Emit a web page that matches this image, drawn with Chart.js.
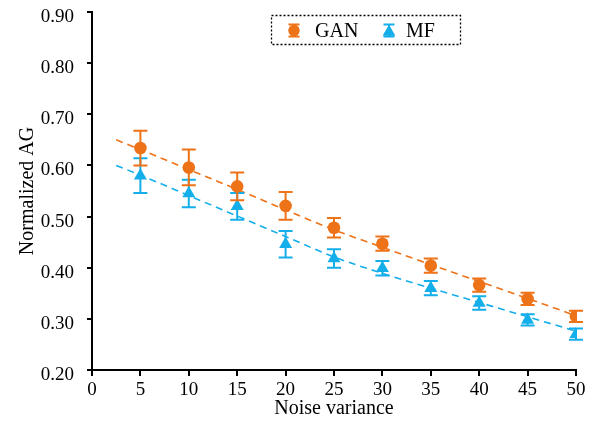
<!DOCTYPE html>
<html><head><meta charset="utf-8">
<script src="https://cdn.jsdelivr.net/npm/chart.js@4/dist/chart.umd.min.js"></script>
<style>html,body{margin:0;padding:0;background:#fff;overflow:hidden}</style>
</head><body>
<canvas id="c" width="599" height="421"></canvas>
<script>
const noiseVariance = [5, 10, 15, 20, 25, 30, 35, 40, 45, 50];
const ganMean = [0.634, 0.596, 0.559, 0.521, 0.478, 0.447, 0.404, 0.366, 0.339, 0.305];
const ganErr  = [0.034, 0.035, 0.027, 0.027, 0.019, 0.014, 0.014, 0.013, 0.012, 0.011];
const mfMean  = [0.580, 0.545, 0.520, 0.446, 0.418, 0.399, 0.360, 0.331, 0.298, 0.270];
const mfErr   = [0.034, 0.027, 0.026, 0.026, 0.018, 0.014, 0.014, 0.013, 0.011, 0.011];
const fitX    = [2.5, 5, 10, 15, 20, 25, 30, 35, 40, 45, 50];
const ganFit  = [0.650, 0.631, 0.592, 0.553, 0.513, 0.474, 0.440, 0.406, 0.373, 0.340, 0.306];
const mfFit   = [0.600, 0.581, 0.541, 0.501, 0.461, 0.421, 0.389, 0.360, 0.332, 0.304, 0.276];
const seriesNames = ['GAN', 'MF'];
const xTitle = 'Noise variance';
const yTitle = 'Normalized AG';

const ORANGE = '#EE7217';
const BLUE = '#14AEEA';
const FONT = '"Liberation Serif", "Times New Roman", serif';

const pts = (xs, ys) => xs.map((x, i) => ({x, y: ys[i]}));

const errorBars = {
  id: 'errorBars',
  beforeDatasetDraw(chart, args) {
    const ds = chart.data.datasets[args.index];
    if (!ds.errors) return;
    const xs = chart.scales.x, ys = chart.scales.y, ctx = chart.ctx;
    ctx.save();
    ctx.strokeStyle = ds.borderColor;
    ctx.lineWidth = 2;
    ds.data.forEach((p, i) => {
      const px = xs.getPixelForValue(p.x);
      const top = ys.getPixelForValue(p.y + ds.errors[i]);
      const bot = ys.getPixelForValue(p.y - ds.errors[i]);
      ctx.beginPath();
      ctx.moveTo(px, top); ctx.lineTo(px, bot);
      ctx.moveTo(px - 7, top); ctx.lineTo(px + 7, top);
      ctx.moveTo(px - 7, bot); ctx.lineTo(px + 7, bot);
      ctx.stroke();
    });
    ctx.restore();
  }
};

const legendBox = {
  id: 'legendBox',
  afterDraw(chart) {
    const ctx = chart.ctx;
    ctx.save();
    ctx.strokeStyle = '#000';
    ctx.lineWidth = 1.3;
    ctx.setLineDash([2, 2]);
    ctx.strokeRect(271.5, 15.5, 189, 29);
    ctx.setLineDash([]);
    const items = [
      {name: seriesNames[0], color: ORANGE, style: 'circle', r: 5.5, ix: 294, tx: 315},
      {name: seriesNames[1], color: BLUE, style: 'triangle', r: 7, ix: 389, tx: 406}
    ];
    const cy = 30.5;
    items.forEach(it => {
      ctx.strokeStyle = it.color; ctx.fillStyle = it.color; ctx.lineWidth = 2;
      ctx.beginPath();
      ctx.moveTo(it.ix, cy - 6); ctx.lineTo(it.ix, cy + 6);
      ctx.moveTo(it.ix - 5.5, cy - 6); ctx.lineTo(it.ix + 5.5, cy - 6);
      ctx.moveTo(it.ix - 5.5, cy + 6); ctx.lineTo(it.ix + 5.5, cy + 6);
      ctx.stroke();
      Chart.helpers.drawPoint(ctx, {pointStyle: it.style, radius: it.r, rotation: 0, borderWidth: 0}, it.ix, it.style === 'triangle' ? cy + 1.5 : cy);
      ctx.fill();
      ctx.fillStyle = '#000';
      ctx.font = '20px ' + FONT;
      ctx.textBaseline = 'middle';
      ctx.textAlign = 'left';
      ctx.fillText(it.name, it.tx, cy + 1);
    });
    ctx.restore();
  }
};

new Chart(document.getElementById('c'), {
  type: 'scatter',
  data: {
    datasets: [
      {label: seriesNames[0] + ' fit', data: pts(fitX, ganFit), showLine: true, borderColor: ORANGE, borderWidth: 1.6, borderDash: [7, 5], pointRadius: 0, cubicInterpolationMode: 'monotone', order: 3},
      {label: seriesNames[1] + ' fit', data: pts(fitX, mfFit), showLine: true, borderColor: BLUE, borderWidth: 1.6, borderDash: [7, 5], pointRadius: 0, cubicInterpolationMode: 'monotone', order: 4},
      {label: seriesNames[0], data: pts(noiseVariance, ganMean), errors: ganErr, borderColor: ORANGE, backgroundColor: ORANGE, pointStyle: 'circle', pointRadius: 6.3, pointBorderWidth: 0, order: 1},
      {label: seriesNames[1], data: pts(noiseVariance, mfMean), errors: mfErr, borderColor: BLUE, backgroundColor: BLUE, pointStyle: 'triangle', pointRadius: 7.5, pointBorderWidth: 0, order: 2}
    ]
  },
  options: {
    responsive: false,
    animation: false,
    layout: {padding: {top: 12, right: 23, left: 0, bottom: 0}},
    plugins: {legend: {display: false}, tooltip: {enabled: false}},
    scales: {
      x: {
        type: 'linear', min: 0, max: 50,
        ticks: {stepSize: 5, color: '#000', font: {family: FONT, size: 19}, padding: 3, maxRotation: 0},
        grid: {display: true, drawOnChartArea: false, drawTicks: true, tickLength: 6, color: '#000', lineWidth: 2},
        border: {display: true, color: '#000', width: 2},
        title: {display: true, text: xTitle, color: '#000', font: {family: FONT, size: 20}, padding: {top: 0, bottom: 0}},
        afterFit(s) { s.height = 51; s.paddingLeft = 0; s.paddingRight = 0; }
      },
      y: {
        min: 0.2, max: 0.9,
        ticks: {stepSize: 0.1, color: '#000', font: {family: FONT, size: 19}, padding: 13, labelOffset: 5, callback: v => v.toFixed(2)},
        grid: {display: true, drawOnChartArea: false, drawTicks: true, tickLength: 5, color: '#000', lineWidth: 2},
        border: {display: true, color: '#000', width: 2},
        title: {display: true, text: yTitle, color: '#000', font: {family: FONT, size: 20}, padding: {top: 16, bottom: 0}},
        afterFit(s) { s.width = 92; s.paddingTop = 0; s.paddingBottom = 0; }
      }
    }
  },
  plugins: [errorBars, legendBox]
});
</script>
</body></html>
